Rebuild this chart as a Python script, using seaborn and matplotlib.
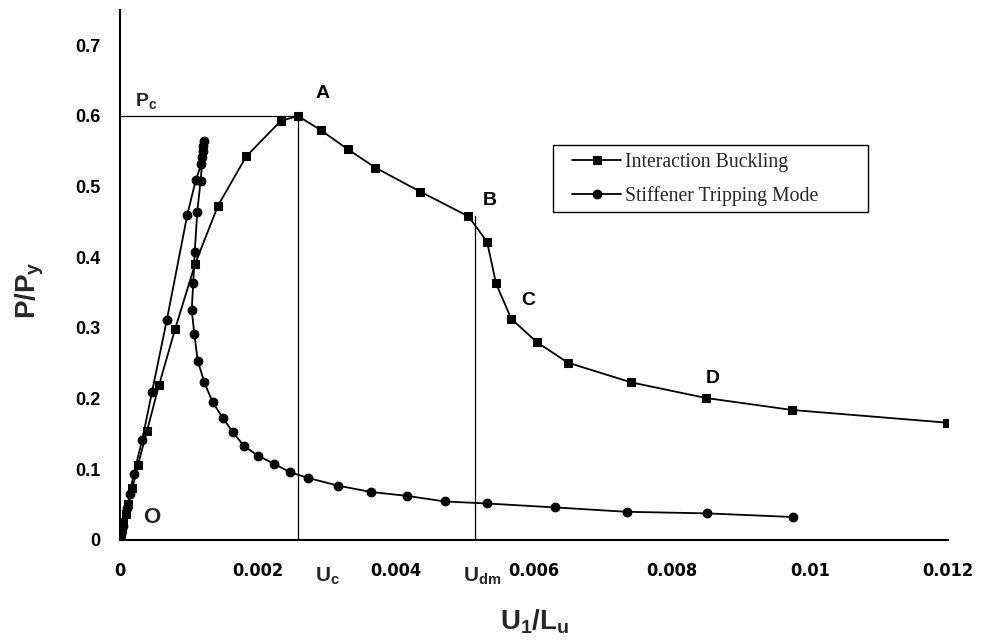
import matplotlib
matplotlib.use('Agg')
import matplotlib.pyplot as plt
import seaborn as sns
import pandas as pd
from matplotlib import font_manager
from matplotlib.patches import Rectangle

# ---------------- data ----------------
ib_u = [0, 0.00001, 0.00003, 0.00005, 0.00008, 0.00012, 0.00018, 0.00026, 0.00039,
        0.000565, 0.0008, 0.00109, 0.00142, 0.00183, 0.00233, 0.00258, 0.00291,
        0.00330, 0.00370, 0.00435, 0.00505, 0.00532, 0.00545, 0.00567, 0.00604,
        0.00649, 0.00741, 0.00849, 0.00974, 0.01199]
ib_p = [0, 0.006, 0.015, 0.026, 0.037, 0.051, 0.073, 0.106, 0.154,
        0.219, 0.299, 0.391, 0.473, 0.543, 0.593, 0.600, 0.580,
        0.553, 0.527, 0.493, 0.458, 0.422, 0.363, 0.313, 0.280,
        0.251, 0.223, 0.201, 0.184, 0.166]

ts_u = [0, 0.00002, 0.00005, 0.0001, 0.00014, 0.0002, 0.00032, 0.000465, 0.00068,
        0.000975, 0.0011, 0.00118, 0.00119, 0.0012, 0.00121, 0.00122, 0.001167,
        0.00112, 0.001083, 0.001062, 0.001039, 0.001077, 0.001126, 0.001222,
        0.001343, 0.001488, 0.001633, 0.001797, 0.002004, 0.002228, 0.002464,
        0.00272, 0.003155, 0.003633, 0.004155, 0.00471, 0.005314, 0.006304,
        0.007343, 0.008503, 0.009758]
ts_p = [0, 0.008, 0.02, 0.045, 0.065, 0.094, 0.141, 0.210, 0.312,
        0.460, 0.510, 0.532, 0.542, 0.551, 0.558, 0.564, 0.508,
        0.464, 0.408, 0.364, 0.326, 0.292, 0.254, 0.223,
        0.195, 0.173, 0.153, 0.133, 0.119, 0.108, 0.096,
        0.088, 0.077, 0.068, 0.0625, 0.0545, 0.0517, 0.0461,
        0.0399, 0.0377, 0.0325]

series_names = ['Interaction Buckling', 'Stiffener Tripping Mode']
x_ticks = [0, 0.002, 0.004, 0.006, 0.008, 0.01, 0.012]
x_tick_labels = ['0', '0.002', '0.004', '0.006', '0.008', '0.01', '0.012']
y_ticks = [0, 0.1, 0.2, 0.3, 0.4, 0.5, 0.6, 0.7]
y_tick_labels = ['0', '0.1', '0.2', '0.3', '0.4', '0.5', '0.6', '0.7']

P_c = 0.600
U_c = 0.00258
U_dm = 0.00514
P_B = 0.458

# ---------------- style ----------------
sns.set_style('white')
plt.rcParams['font.family'] = ['Liberation Sans', 'DejaVu Sans']
plt.rcParams['mathtext.fontset'] = 'custom'
plt.rcParams['mathtext.bf'] = 'Liberation Sans:bold'
plt.rcParams['mathtext.sf'] = 'Liberation Sans:bold'
plt.rcParams['mathtext.rm'] = 'Liberation Sans'

# look for a condensed / narrow bold face for the x tick labels
narrow_prop = None
for f in font_manager.fontManager.ttflist:
    fn = f.fname.lower()
    if ('narrow' in fn or 'condensed' in fn) and ('bold' in fn) and ('oblique' not in fn) \
            and ('italic' not in fn) and ('mono' not in fn) and ('serif' not in fn):
        narrow_prop = font_manager.FontProperties(fname=f.fname, size=13)
        break
if narrow_prop is None:
    narrow_prop = font_manager.FontProperties(family='Liberation Sans', weight='bold', size=13.5)

fig = plt.figure(figsize=(9.83, 6.42), dpi=100)
ax = fig.add_axes([120 / 983, 1 - 540 / 642, 828 / 983, 530 / 642])

df_ib = pd.DataFrame({'u': ib_u, 'p': ib_p})
df_ts = pd.DataFrame({'u': ts_u, 'p': ts_p})

sns.lineplot(data=df_ib, x='u', y='p', ax=ax, sort=False, estimator=None,
             color='black', lw=1.3, marker='s', markersize=6.3, markeredgecolor='black',
             label=series_names[0])
sns.lineplot(data=df_ts, x='u', y='p', ax=ax, sort=False, estimator=None,
             color='black', lw=1.3, marker='o', markersize=6.3, markeredgecolor='black',
             label=series_names[1])

# reference lines
ax.plot([0, U_c], [P_c, P_c], color='black', lw=0.9)
ax.plot([U_c, U_c], [0, P_c], color='black', lw=0.9)
ax.plot([U_dm, U_dm], [0, P_B], color='black', lw=0.9)

ax.set_xlim(0, 0.012)
ax.set_ylim(0, 0.75)
ax.set_xticks(x_ticks)
ax.set_xticklabels(x_tick_labels, fontproperties=narrow_prop)
ax.set_yticks(y_ticks)
ax.set_yticklabels(y_tick_labels, fontweight='bold', fontsize=13)
ax.tick_params(axis='x', direction='in', length=5, width=1, pad=16, colors='black')
ax.tick_params(axis='y', direction='in', length=5, width=1, pad=14, colors='black')

for s in ['top', 'right']:
    ax.spines[s].set_visible(False)
for s in ['left', 'bottom']:
    ax.spines[s].set_color('black')
    ax.spines[s].set_linewidth(1.5)

ax.set_xlabel(r'$\mathbf{U_1/L_u}$', fontsize=20, va='center')
ax.set_ylabel(r'$\mathsf{P/P_y}$', fontsize=20, va='center')
ax.xaxis.set_label_coords(0.501, -0.155)
ax.yaxis.set_label_coords(-0.109, 0.472)

# annotations
tk = dict(fontweight='bold', fontsize=14, color='black', ha='center', va='center')
ax.text(0.00022, 0.621, r'$\mathsf{P_c}$', fontsize=14, ha='left', va='center')
ax.text(0.00294, 0.632, 'A', **tk)
ax.text(0.00536, 0.480, 'B', **tk)
ax.text(0.00591, 0.339, 'C', **tk)
ax.text(0.00859, 0.229, 'D', **tk)
ax.text(0.00046, 0.032, 'O', fontweight='bold', fontsize=16, ha='center', va='center')
tr = ax.get_xaxis_transform()
ax.text(0.00301, -0.068, r'$\mathbf{U_c}$', transform=tr, fontsize=15, ha='center', va='center')
ax.text(0.00525, -0.068, r'$\mathbf{U_{dm}}$', transform=tr, fontsize=15, ha='center', va='center')

# legend (frame drawn separately to match the wide Excel-style box)
leg = ax.legend(loc='upper left', bbox_to_anchor=(572 / 983, 1 - 153 / 642),
                bbox_transform=fig.transFigure, frameon=False,
                borderaxespad=0, borderpad=0, handlelength=2.5,
                prop={'family': 'Liberation Serif', 'size': 14.2},
                labelspacing=0.7, handletextpad=0.2)
fig.patches.append(Rectangle((553 / 983, 1 - 212 / 642), 315 / 983, 67 / 642,
                             transform=fig.transFigure, fill=False,
                             edgecolor='black', linewidth=1.0, zorder=5))

fig.savefig('out.png', dpi=100)
